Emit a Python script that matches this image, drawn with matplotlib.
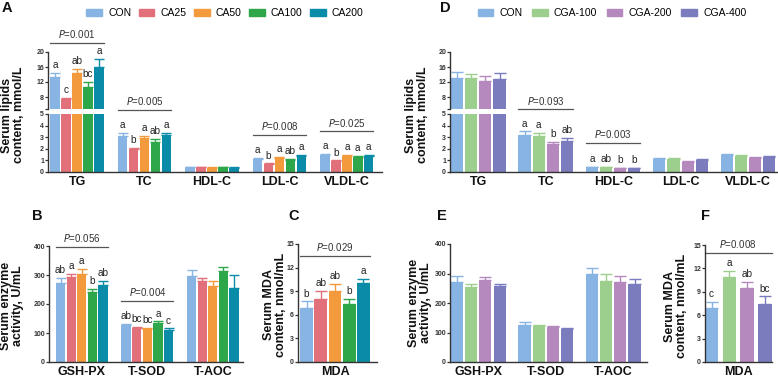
import numpy as np
import matplotlib.pyplot as plt

plt.rcParams['font.family'] = ['Liberation Sans', 'DejaVu Sans']

W, H = 778, 381

# groups and colours
ca_groups = ['CON', 'CA25', 'CA50', 'CA100', 'CA200']
ca_colors = ['#88b4e4', '#e2707a', '#f39a3c', '#2ea64a', '#0a8ba8']
cga_groups = ['CON', 'CGA-100', 'CGA-200', 'CGA-400']
cga_colors = ['#88b4e4', '#9ccf8e', '#b588be', '#7a7cbe']

lipid_labels = ['TG', 'TC', 'HDL-C', 'LDL-C', 'VLDL-C']
enzyme_labels = ['GSH-PX', 'T-SOD', 'T-AOC']

# panel A (rows: lipid, cols: CA group)
a_mean = [[13.3, 7.6, 14.4, 10.7, 16.1],
          [3.1, 2.0, 2.95, 2.6, 3.15],
          [0.42, 0.40, 0.38, 0.42, 0.36],
          [1.1, 0.7, 1.2, 1.0, 1.35],
          [1.45, 0.95, 1.4, 1.3, 1.35]]
a_err = [[1.2, 0.2, 1.1, 1.4, 2.0],
         [0.3, 0.05, 0.15, 0.25, 0.25],
         [0.03, 0.03, 0.03, 0.03, 0.03],
         [0.1, 0.05, 0.08, 0.15, 0.1],
         [0.1, 0.05, 0.07, 0.06, 0.15]]
a_letters = {0: ['a', 'c', 'ab', 'bc', 'a'],
             1: ['a', 'b', 'a', 'ab', 'a'],
             3: ['a', 'b', 'a', 'ab', 'a'],
             4: ['a', 'b', 'a', 'a', 'a']}
a_pvals = {0: ('0.001', 22.4), 1: ('0.005', 5.35), 3: ('0.008', 3.2), 4: ('0.025', 3.5)}

# panel D
d_mean = [[13.2, 13.0, 12.3, 12.9],
          [3.2, 3.1, 2.4, 2.7],
          [0.42, 0.40, 0.34, 0.34],
          [1.1, 1.1, 0.9, 1.05],
          [1.45, 1.4, 1.22, 1.3]]
d_err = [[1.4, 1.2, 1.3, 1.4],
         [0.3, 0.25, 0.2, 0.25],
         [0.03, 0.03, 0.03, 0.03],
         [0.1, 0.1, 0.08, 0.08],
         [0.1, 0.05, 0.05, 0.05]]
d_letters = {1: ['a', 'a', 'b', 'ab'], 2: ['a', 'ab', 'b', 'b']}
d_pvals = {1: ('0.093', 5.4), 2: ('0.003', 2.5)}

# panel B
b_mean = [[272, 292, 303, 243, 267],
          [126, 118, 114, 136, 112],
          [297, 280, 262, 313, 255]]
b_err = [[18, 12, 18, 10, 12],
         [6, 3, 3, 4, 4],
         [20, 8, 18, 15, 45]]
b_letters = {0: ['ab', 'a', 'a', 'b', 'ab'], 1: ['ab', 'bc', 'bc', 'a', 'c']}
b_pvals = {0: ('0.056', 397), 1: ('0.004', 210)}

# panel C
c_mean = [6.9, 8.0, 9.0, 7.4, 10.1]
c_err = [0.8, 1.0, 0.9, 0.6, 0.5]
c_letters = ['b', 'ab', 'ab', 'b', 'a']
c_pval = ('0.029', 13.5)

# panel E
e_mean = [[272, 255, 277, 256],
          [126, 122, 117, 113],
          [297, 275, 272, 263]]
e_err = [[18, 8, 10, 8],
         [8, 3, 4, 3],
         [20, 22, 18, 18]]

# panel F
f_mean = [6.9, 10.9, 9.5, 7.4]
f_err = [0.8, 0.8, 0.8, 1.0]
f_letters = ['c', 'a', 'ab', 'bc']
f_pval = ('0.008', 14.0)

TXT = '#222222'
SPINE = '#333333'


def rect(l, t, r, b):
    return [l / W, 1 - b / H, (r - l) / W, (b - t) / H]


def style(ax, bottom=True):
    for s in ['top', 'right']:
        ax.spines[s].set_visible(False)
    ax.spines['left'].set_color(SPINE)
    ax.spines['bottom'].set_color(SPINE)
    ax.spines['left'].set_linewidth(1.0)
    ax.spines['bottom'].set_linewidth(1.0)
    ax.tick_params(axis='y', length=2, width=0.9, pad=0.8, labelsize=5, colors=SPINE)
    ax.tick_params(axis='x', length=0, pad=3, labelsize=9, colors='#111111')
    for lab in ax.get_yticklabels():
        lab.set_fontweight('bold')
    if not bottom:
        ax.spines['bottom'].set_visible(False)
        ax.set_xticks([])


def bars(ax, x0, means, errs, colors, slot, width, cap):
    n = len(means)
    xs = x0 + (np.arange(n) - (n - 1) / 2) * slot
    for x, m, e, c in zip(xs, means, errs, colors):
        ax.bar(x, m, width=width, color=c, zorder=2)
        ax.errorbar(x, m, yerr=[[0], [e]], ecolor=c, elinewidth=1.0,
                    capsize=cap, capthick=1.0, fmt='none', zorder=2)
    return xs


def letters(ax, xs, means, errs, labs):
    for x, m, e, t in zip(xs, means, errs, labs):
        ax.annotate(t, (x, m + e), xytext=(0, 2), textcoords='offset points',
                    ha='center', va='bottom', fontsize=7.2, color=TXT,
                    annotation_clip=False)


def pbar(ax, x1, x2, y, p):
    ax.plot([x1, x2], [y, y], color='#555555', lw=0.9, clip_on=False)
    ax.annotate('$\\it{P}$=' + p, ((x1 + x2) / 2, y), xytext=(0, 2),
                textcoords='offset points', ha='center', va='bottom',
                fontsize=7, color='#333333', annotation_clip=False)


fig = plt.figure(figsize=(W / 100, H / 100), dpi=100)


def lipid_panel(l, r, xlim, means, errs, colors, slot, width, cap, lets, pvals):
    ax_up = fig.add_axes(rect(l, 52, r, 109))
    ax_lo = fig.add_axes(rect(l, 114, r, 172))
    for i in range(len(lipid_labels)):
        for ax in (ax_up, ax_lo):
            xs = bars(ax, i, means[i], errs[i], colors, slot, width, cap)
        if i in lets:
            tgt = ax_up if max(means[i]) > 5 else ax_lo
            letters(tgt, xs, means[i], errs[i], lets[i])
        if i in pvals:
            p, y = pvals[i]
            tgt = ax_up if y > 10 else ax_lo
            pbar(tgt, xs[0] - width / 2, xs[-1] + width / 2, y, p)
    ax_up.set_ylim(4.8, 20)
    ax_up.set_yticks([4.8, 8, 12, 16, 20])
    ax_up.set_yticklabels(['', '8', '12', '16', '20'])
    ax_lo.set_ylim(0, 5)
    ax_lo.set_yticks([0, 1, 2, 3, 4, 5])
    for ax in (ax_up, ax_lo):
        ax.set_xlim(*xlim)
    style(ax_up, bottom=False)
    style(ax_lo)
    ax_lo.set_xticks(range(len(lipid_labels)))
    ax_lo.set_xticklabels(lipid_labels, fontweight='bold')
    return ax_up, ax_lo


# A
lipid_panel(48, 382, (-0.43, 4.52), a_mean, a_err, ca_colors, 0.162, 0.14, 3.8,
            a_letters, a_pvals)
# D
lipid_panel(450, 777, (-0.42, 4.43), d_mean, d_err, cga_colors, 0.21, 0.18, 4.5,
            d_letters, d_pvals)

# B
ax_b = fig.add_axes(rect(49, 246, 243, 362))
for i in range(len(enzyme_labels)):
    xs = bars(ax_b, i, b_mean[i], b_err[i], ca_colors, 0.162, 0.14, 3.8)
    if i in b_letters:
        letters(ax_b, xs, b_mean[i], b_err[i], b_letters[i])
    if i in b_pvals:
        p, y = b_pvals[i]
        pbar(ax_b, xs[0] - 0.07, xs[-1] + 0.07, y, p)
ax_b.set_xlim(-0.5, 2.46)
ax_b.set_ylim(0, 400)
ax_b.set_yticks([0, 100, 200, 300, 400])
style(ax_b)
ax_b.set_xticks(range(3))
ax_b.set_xticklabels(enzyme_labels, fontweight='bold')

# C
ax_c = fig.add_axes(rect(298, 244, 377, 362))
xs = bars(ax_c, 2, c_mean, c_err, ca_colors, 1.0, 0.9, 4.5)
letters(ax_c, xs, c_mean, c_err, c_letters)
pbar(ax_c, xs[0] - 0.45, xs[-1] + 0.45, c_pval[1], c_pval[0])
ax_c.set_xlim(-0.6, 4.95)
ax_c.set_ylim(0, 15)
ax_c.set_yticks([0, 3, 6, 9, 12, 15])
style(ax_c)
ax_c.set_xticks([2])
ax_c.set_xticklabels(['MDA'], fontweight='bold')

# E
ax_e = fig.add_axes(rect(450, 244, 647, 362))
for i in range(len(enzyme_labels)):
    bars(ax_e, i, e_mean[i], e_err[i], cga_colors, 0.21, 0.18, 4.5)
ax_e.set_xlim(-0.42, 2.5)
ax_e.set_ylim(0, 400)
ax_e.set_yticks([0, 100, 200, 300, 400])
style(ax_e)
ax_e.set_xticks(range(3))
ax_e.set_xticklabels(enzyme_labels, fontweight='bold')

# F
ax_f = fig.add_axes(rect(705, 245, 772, 362))
xs = bars(ax_f, 1.5, f_mean, f_err, cga_colors, 1.0, 0.75, 4.5)
letters(ax_f, xs, f_mean, f_err, f_letters)
pbar(ax_f, xs[0] - 0.375, xs[-1] + 0.375, f_pval[1], f_pval[0])
ax_f.set_xlim(-0.37, 3.4)
ax_f.set_ylim(0, 15)
ax_f.set_yticks([0, 3, 6, 9, 12, 15])
style(ax_f)
ax_f.set_xticks([1.5])
ax_f.set_xticklabels(['MDA'], fontweight='bold')

# y labels
ylab = dict(rotation=90, ha='center', va='center', fontsize=9,
            fontweight='bold', color='#111111', linespacing=1.0)
fig.text(13 / W, 1 - 115 / H, 'Serum lipids\ncontent, mmol/L', **ylab)
fig.text(12 / W, 1 - 306 / H, 'Serum enzyme\nactivity, U/mL', **ylab)
fig.text(275 / W, 1 - 305 / H, 'Serum MDA\ncontent, nmol/mL', **ylab)
fig.text(417 / W, 1 - 115 / H, 'Serum lipids\ncontent, mmol/L', **ylab)
fig.text(420 / W, 1 - 303 / H, 'Serum enzyme\nactivity, U/mL', **ylab)
fig.text(676 / W, 1 - 306 / H, 'Serum MDA\ncontent, nmol/mL', **ylab)

# panel letters
for t, x, y in [('A', 2, 1), ('D', 440, 1), ('B', 32, 209), ('C', 288, 209),
                ('E', 437, 209), ('F', 701, 209)]:
    fig.text(x / W, 1 - y / H, t, fontsize=10.5, fontweight='bold',
             ha='left', va='top', color='#111111')

# legends
h_ca = [plt.Rectangle((0, 0), 1, 1, color=c) for c in ca_colors]
fig.legend(h_ca, ca_groups, loc='center', bbox_to_anchor=(225 / W, 1 - 13 / H),
           ncol=5, frameon=False, fontsize=7.5, handlelength=1.5, handleheight=0.7,
           columnspacing=0.7, handletextpad=0.6)
h_cga = [plt.Rectangle((0, 0), 1, 1, color=c) for c in cga_colors]
fig.legend(h_cga, cga_groups, loc='center', bbox_to_anchor=(612 / W, 1 - 13 / H),
           ncol=4, frameon=False, fontsize=7.5, handlelength=1.5, handleheight=0.7,
           columnspacing=0.9, handletextpad=0.6)

fig.savefig('out.png', dpi=100)
